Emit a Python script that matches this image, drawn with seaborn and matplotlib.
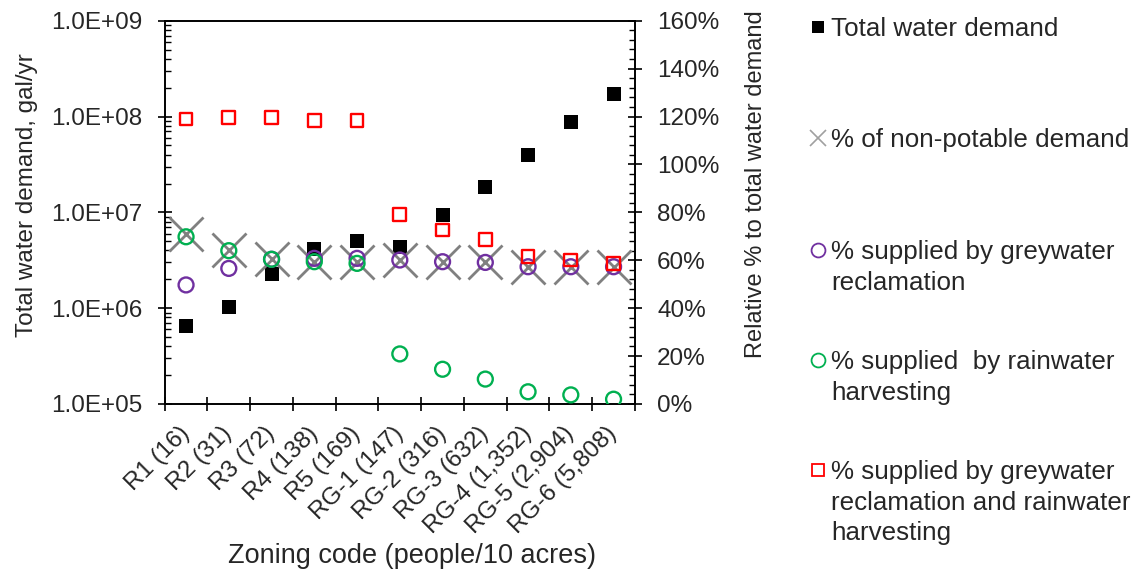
import matplotlib
matplotlib.use("Agg")
import matplotlib.pyplot as plt
from matplotlib.lines import Line2D
from matplotlib.ticker import FuncFormatter, MultipleLocator, LogLocator, NullFormatter, FixedLocator
import seaborn as sns
import pandas as pd

# === Data
zones = ["R1 (16)", "R2 (31)", "R3 (72)", "R4 (138)", "R5 (169)", "RG-1 (147)",
         "RG-2 (316)", "RG-3 (632)", "RG-4 (1,352)", "RG-5 (2,904)", "RG-6 (5,808)"]
total_demand = [6.5e5, 1.02e6, 2.27e6, 4.1e6, 5.0e6, 4.3e6, 9.4e6, 1.85e7, 3.95e7, 8.7e7, 1.7e8]
non_potable = [70.8, 64.3, 60.5, 59.4, 59.1, 60.1, 59.1, 59.1, 57.3, 57.3, 57.3]
greywater = [49.7, 56.6, 60.4, 60.8, 60.8, 60.1, 59.4, 59.1, 57.3, 57.3, 57.3]
rainwater = [69.8, 64.0, 60.4, 59.4, 58.7, 20.9, 14.5, 10.4, 5.1, 3.8, 2.0]
combined = [119.0, 119.5, 119.5, 118.3, 118.3, 79.0, 72.6, 68.7, 61.5, 60.1, 58.7]

legend_labels = ["Total water demand",
                 "% of non-potable demand",
                 "% supplied by greywater\nreclamation",
                 "% supplied  by rainwater\nharvesting",
                 "% supplied by greywater\nreclamation and rainwater\nharvesting"]

df = pd.DataFrame({"zone": zones, "total": total_demand, "non_potable": non_potable,
                   "greywater": greywater, "rainwater": rainwater, "combined": combined})

# === Style
sns.set_style("ticks")
plt.rcParams["font.family"] = ["Liberation Sans", "DejaVu Sans"]
text_c = "#262626"

fig = plt.figure(figsize=(11.42, 5.69), dpi=100)
ax = fig.add_axes([0.1442, 0.2900, 0.4118, 0.6736])

# === Primary axis: total demand (log)
sns.scatterplot(data=df, x="zone", y="total", marker="s", s=92, color="black",
                edgecolor="black", linewidth=0, ax=ax, zorder=3)
ax.set_yscale("log")
ax.set_ylim(1e5, 1e9)

# === Secondary axis: relative percentages
ax2 = ax.twinx()
sns.scatterplot(data=df, x="zone", y="non_potable", marker="x", s=600, color="#808080",
                linewidth=2.0, ax=ax2, zorder=2)
sns.scatterplot(data=df, x="zone", y="greywater", marker="o", s=115, color="#7030A0",
                facecolor="none", edgecolor="#7030A0", linewidth=1.7, ax=ax2, zorder=3)
sns.scatterplot(data=df, x="zone", y="rainwater", marker="o", s=115, color="#00B050",
                facecolor="none", edgecolor="#00B050", linewidth=1.7, ax=ax2, zorder=4)
sns.scatterplot(data=df, x="zone", y="combined", marker="s", s=85, color="#FF0000",
                facecolor="none", edgecolor="#FF0000", linewidth=1.7, ax=ax2, zorder=5)
ax2.set_ylim(0, 160)

# === X axis: labels at centres, ticks at category edges
n = len(zones)
ax.set_xlim(-0.5, n - 0.5)
ax.xaxis.set_major_locator(FixedLocator(range(n)))
ax.set_xticklabels(zones, rotation=45, ha="right", va="center", rotation_mode="anchor",
                   fontsize=17.5, color=text_c)
ax.xaxis.set_minor_locator(FixedLocator([i - 0.5 for i in range(n + 1)]))
ax.tick_params(axis="x", which="major", length=0, pad=19)
ax.tick_params(axis="x", which="minor", direction="inout", length=10, width=1.2, color="black")

# === Left y ticks
ax.yaxis.set_major_formatter(FuncFormatter(lambda v, p: f"{v:.1E}"))
ax.yaxis.set_minor_locator(LogLocator(base=10, subs=range(2, 10)))
ax.yaxis.set_minor_formatter(NullFormatter())
ax.tick_params(axis="y", which="major", direction="inout", length=10, width=1.2,
               pad=11, labelsize=17.5, labelcolor=text_c, color="black")
ax.tick_params(axis="y", which="minor", direction="in", length=4, width=1, color="black")

# === Right y ticks
ax2.yaxis.set_major_locator(MultipleLocator(20))
ax2.yaxis.set_minor_locator(MultipleLocator(4))
ax2.yaxis.set_major_formatter(FuncFormatter(lambda v, p: f"{v:.0f}%"))
ax2.tick_params(axis="y", which="major", direction="inout", length=10, width=1.2,
                pad=11, labelsize=17.5, labelcolor=text_c, color="black")
ax2.tick_params(axis="y", which="minor", direction="in", length=4, width=1, color="black")

for a in (ax, ax2):
    for s in a.spines.values():
        s.set_visible(True)
        s.set_color("black")
        s.set_linewidth(1.2)

# === Axis labels
ax.set_xlabel("Zoning code (people/10 acres)", fontsize=19.5, color=text_c)
ax.xaxis.set_label_coords(0.526, -0.363)
ax.set_ylabel("Total water demand, gal/yr", fontsize=17.5, color=text_c)
ax.yaxis.set_label_coords(-0.27, 0.545)
ax2.set_ylabel("Relative % to total water demand", fontsize=17, color=text_c)
ax2.yaxis.set_label_coords(1.234, 0.574)

# === Manual legend to the right
W, H = 1142, 569
mk_x = 817.5 / W
tx_x = 831 / W
entry_y = [27, 138, 250, 360, 470]
handles = [
    dict(marker="s", markersize=8.5, markerfacecolor="black", markeredgecolor="black", markeredgewidth=0),
    dict(marker="x", markersize=12, markeredgecolor="#a0a0a0", markeredgewidth=1.2),
    dict(marker="o", markersize=10, markerfacecolor="none", markeredgecolor="#7030A0", markeredgewidth=1.3),
    dict(marker="o", markersize=10, markerfacecolor="none", markeredgecolor="#00B050", markeredgewidth=1.3),
    dict(marker="s", markersize=9, markerfacecolor="none", markeredgecolor="#FF0000", markeredgewidth=1.3),
]
for yc, lab, h in zip(entry_y, legend_labels, handles):
    fig.add_artist(Line2D([mk_x], [1 - yc / H], transform=fig.transFigure, linestyle="none", **h))
    fig.text(tx_x, 1 - (yc - 9.5) / H, lab, fontsize=18.7, color=text_c, va="top", ha="left",
             linespacing=1.32)

fig.savefig("out.png", dpi=100)
